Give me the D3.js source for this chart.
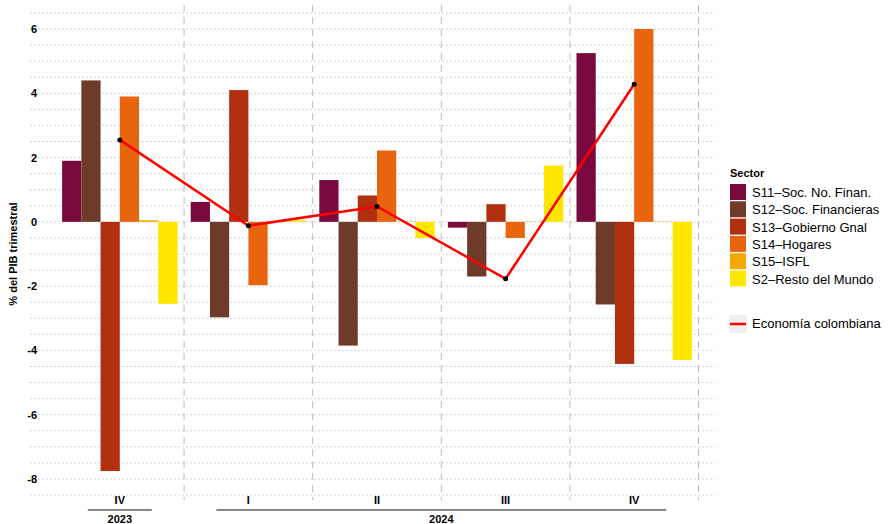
<!DOCTYPE html>
<html><head><meta charset="utf-8">
<script src="https://cdn.jsdelivr.net/npm/d3@7"></script>
<style>body{margin:0;background:#fff}text{font-family:"Liberation Sans",Arial,sans-serif}</style>
</head><body><svg width="891" height="524"></svg>
<script>
const quarters = ['IV','I','II','III','IV'];
const years = [{year:'2023', from:0, to:0}, {year:'2024', from:1, to:4}];
const sectors = ['S11–Soc. No. Finan.','S12–Soc. Financieras','S13–Gobierno Gnal','S14–Hogares','S15–ISFL','S2–Resto del Mundo'];
const colors = ['#7a0a3e','#6e3a2a','#b0300f','#e8650d','#f5a800','#ffe600'];
const s11 = [1.9, 0.62, 1.3, -0.18, 5.25];
const s12 = [4.4, -2.97, -3.85, -1.7, -2.57];
const s13 = [-7.75, 4.1, 0.82, 0.55, -4.42];
const s14 = [3.9, -1.97, 2.22, -0.5, 6.0];
const s15 = [0.05, 0.02, 0.01, 0.01, 0.01];
const s2 = [-2.55, 0.05, -0.5, 1.75, -4.3];
const economia = [2.55, -0.12, 0.48, -1.77, 4.28];
const yTicks = [-8,-6,-4,-2,0,2,4,6];

const series = [s11, s12, s13, s14, s15, s2];
const svg = d3.select('svg');
const idx = d3.range(quarters.length);

const x = d3.scaleBand().domain(idx).range([55.5, 698.5]).paddingInner(0).paddingOuter(0);
const xi = d3.scaleBand().domain(d3.range(6)).range([6.6, x.bandwidth()-6.6]).padding(0);
const y = d3.scaleLinear().domain([-8, 6]).range([479, 29]);

// horizontal grid
svg.append('g').selectAll('line').data(d3.range(-8.5, 6.6, 0.5)).join('line')
  .attr('x1', 30).attr('x2', 715).attr('y1', d => y(d)).attr('y2', d => y(d))
  .attr('stroke', '#c8c8c8').attr('stroke-dasharray', '2,2').attr('stroke-width', 0.8);
// vertical dividers
svg.append('g').selectAll('line').data(d3.range(1, 6)).join('line')
  .attr('x1', d => x.step()*d + 55.5).attr('x2', d => x.step()*d + 55.5)
  .attr('y1', 5).attr('y2', 500)
  .attr('stroke', '#bbbbbb').attr('stroke-dasharray', '7,5').attr('stroke-width', 1);

// bars
const g = svg.append('g');
series.forEach((s, k) => {
  g.selectAll('.b' + k).data(s).join('rect')
    .attr('x', (d, i) => x(i) + xi(k))
    .attr('width', xi.bandwidth())
    .attr('y', d => y(Math.max(0, d)))
    .attr('height', d => Math.abs(y(d) - y(0)))
    .attr('fill', colors[k]);
});

// line
const cx = i => x(i) + x.bandwidth()/2;
svg.append('path').datum(economia)
  .attr('d', d3.line().x((d, i) => cx(i)).y(d => y(d)))
  .attr('fill', 'none').attr('stroke', '#ff0000').attr('stroke-width', 2.5);
svg.append('g').selectAll('circle').data(economia).join('circle')
  .attr('cx', (d, i) => cx(i)).attr('cy', d => y(d)).attr('r', 2.5).attr('fill', '#000');

// y axis
svg.append('g').selectAll('text').data(yTicks).join('text')
  .attr('x', 37).attr('y', d => y(d) + 4).attr('text-anchor', 'end')
  .attr('font-size', 11).attr('font-weight', 'bold').text(d => d);
svg.append('text').attr('transform', 'translate(17,' + y(-1) + ') rotate(-90)')
  .attr('text-anchor', 'middle').attr('font-size', 11).attr('font-weight', 'bold').text('% del PIB trimestral');

// x axis
svg.append('g').selectAll('text').data(quarters).join('text')
  .attr('x', (d, i) => cx(i)).attr('y', 504).attr('text-anchor', 'middle')
  .attr('font-size', 11).attr('font-weight', 'bold').text(d => d);
years.forEach(yr => {
  const a = cx(yr.from) - 32;
  const b = cx(yr.to) + 32;
  svg.append('line').attr('x1', a).attr('x2', b).attr('y1', 510).attr('y2', 510)
    .attr('stroke', '#111').attr('stroke-width', 1.2);
  svg.append('text').attr('x', (a + b) / 2).attr('y', 523).attr('text-anchor', 'middle')
    .attr('font-size', 11).attr('font-weight', 'bold').text(yr.year);
});

// legend
const lg = svg.append('g').attr('transform', 'translate(728,0)');
lg.append('text').attr('x', 2).attr('y', 177).attr('font-size', 11).attr('font-weight', 'bold').text('Sector');
sectors.forEach((s, k) => {
  lg.append('rect').attr('x', 2).attr('y', 184 + k*17.3).attr('width', 16).attr('height', 16).attr('fill', colors[k]);
  lg.append('text').attr('x', 24).attr('y', 197 + k*17.3).attr('font-size', 13).text(s);
});
lg.append('rect').attr('x', 1).attr('y', 315).attr('width', 18).attr('height', 18).attr('fill', '#f0f0f0');
lg.append('line').attr('x1', 2).attr('x2', 18).attr('y1', 324).attr('y2', 324).attr('stroke', '#ff0000').attr('stroke-width', 2.5);
lg.append('text').attr('x', 24).attr('y', 328).attr('font-size', 13).text('Economía colombiana');
</script></body></html>
